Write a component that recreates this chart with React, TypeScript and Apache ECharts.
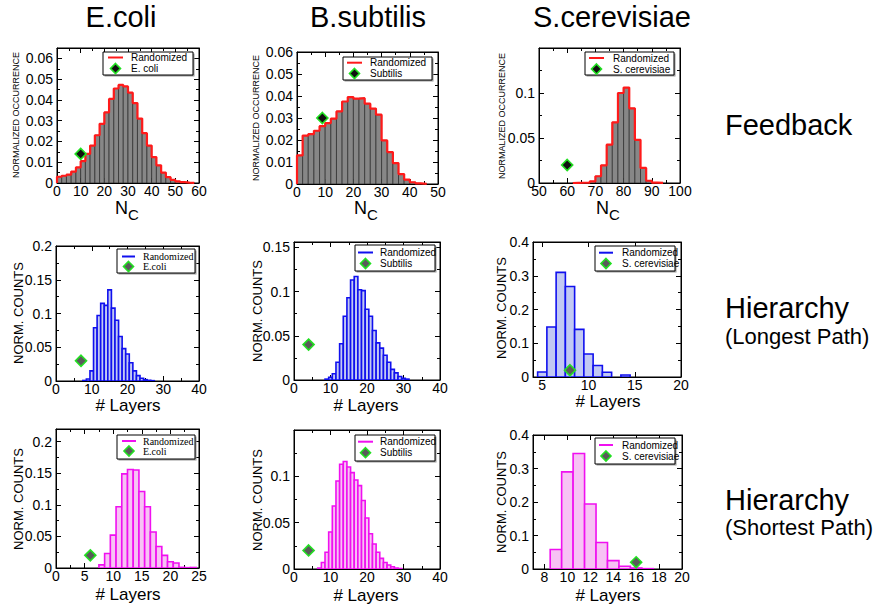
import React, { useEffect, useRef } from "react";
import * as echarts from "echarts";

// ---------------- DATA ----------------
// Row 1: Feedback (N_C), bins of width 2 (centers)
const ecoliFbCenters = [1, 3, 5, 7, 9, 11, 13, 15, 17, 19, 21, 23, 25, 27, 29, 31, 33, 35, 37, 39, 41, 43, 45, 47, 49, 51, 53, 55, 57];
const ecoliFbValues = [0.003, 0.0035, 0.004, 0.0055, 0.0075, 0.0105, 0.014, 0.018, 0.023, 0.0285, 0.034, 0.0405, 0.0455, 0.0472, 0.0465, 0.0435, 0.0385, 0.031, 0.024, 0.018, 0.0125, 0.0085, 0.005, 0.0028, 0.0015, 0.0008, 0.0004, 0.0002, 0.0001];
const ecoliFbObserved = [10, 0.014];

const subtilisFbCenters = [1, 3, 5, 7, 9, 11, 13, 15, 17, 19, 21, 23, 25, 27, 29, 31, 33, 35, 37, 39, 41, 43, 45];
const subtilisFbValues = [0.013, 0.022, 0.0227, 0.0242, 0.0263, 0.0277, 0.0297, 0.033, 0.0375, 0.0395, 0.0388, 0.039, 0.0365, 0.0343, 0.0315, 0.0198, 0.0145, 0.0095, 0.0045, 0.002, 0.0008, 0.0003, 0.0001];
const subtilisFbObserved = [9, 0.03];

const cerevisiaeFbCenters = [63, 65, 67, 69, 71, 73, 75, 77, 79, 81, 83, 85, 87, 89, 91, 93];
const cerevisiaeFbValues = [0.0002, 0.0003, 0.0005, 0.0018, 0.0075, 0.0196, 0.0426, 0.0674, 0.1, 0.106, 0.083, 0.048, 0.0167, 0.0025, 0.0005, 0.0002];
const cerevisiaeFbObserved = [60, 0.02];

// Row 2: Hierarchy (longest path), bins of width 1 (centers)
const ecoliLpCenters = [8, 9, 10, 11, 12, 13, 14, 15, 16, 17, 18, 19, 20, 21, 22, 23, 24, 25, 26, 27];
const ecoliLpValues = [0.0008, 0.003, 0.015, 0.079, 0.097, 0.115, 0.112, 0.135, 0.108, 0.09, 0.066, 0.048, 0.04, 0.027, 0.015, 0.008, 0.004, 0.002, 0.001, 0.0005];
const ecoliLpObserved = [7, 0.03];

const subtilisLpCenters = [9, 10, 11, 12, 13, 14, 15, 16, 17, 18, 19, 20, 21, 22, 23, 24, 25, 26, 27, 28, 29, 30, 31];
const subtilisLpValues = [0.001, 0.003, 0.007, 0.02, 0.041, 0.072, 0.093, 0.113, 0.117, 0.102, 0.101, 0.08, 0.072, 0.056, 0.042, 0.036, 0.028, 0.02, 0.012, 0.008, 0.004, 0.002, 0.001];
const subtilisLpObserved = [4, 0.04];

const cerevisiaeLpCenters = [5, 6, 7, 8, 9, 10, 11, 12, 14];
const cerevisiaeLpValues = [0.015, 0.148, 0.31, 0.268, 0.141, 0.068, 0.034, 0.014, 0.006];
const cerevisiaeLpObserved = [8, 0.02];

// Row 3: Hierarchy (shortest path), bins of width 1 (centers)
const ecoliSpCenters = [8, 9, 10, 11, 12, 13, 14, 15, 16, 17, 18, 19, 20, 21, 22, 23, 24];
const ecoliSpValues = [0.005, 0.023, 0.052, 0.097, 0.149, 0.156, 0.155, 0.121, 0.097, 0.057, 0.034, 0.02, 0.01, 0.008, 0.001, 0.0005, 0.0008];
const ecoliSpObserved = [6, 0.02];

const subtilisSpCenters = [7, 8, 9, 10, 11, 12, 13, 14, 15, 16, 17, 18, 19, 20, 21, 22, 23, 24, 25, 26, 27, 28, 29];
const subtilisSpValues = [0.001, 0.007, 0.018, 0.04, 0.068, 0.095, 0.113, 0.116, 0.11, 0.104, 0.096, 0.09, 0.074, 0.055, 0.038, 0.027, 0.018, 0.0115, 0.007, 0.0043, 0.0025, 0.001, 0.0005];
const subtilisSpObserved = [4, 0.02];

const cerevisiaeSpCenters = [9, 10, 11, 12, 13, 14, 15, 16, 17];
const cerevisiaeSpValues = [0.058, 0.29, 0.345, 0.194, 0.079, 0.025, 0.008, 0.003, 0.001];
const cerevisiaeSpObserved = [16, 0.02];

// Axis ranges [min, max, interval]
const ecoliFbX = [0, 60, 10];
const ecoliFbY = [0, 0.065, 0.01];
const subtilisFbX = [0, 50, 10];
const subtilisFbY = [0, 0.06, 0.01];
const cerevisiaeFbX = [50, 100, 10];
const cerevisiaeFbY = [0, 0.15, 0.05];
const ecoliLpX = [0, 40, 10];
const ecoliLpY = [0, 0.2, 0.05];
const subtilisLpX = [0, 40, 10];
const subtilisLpY = [0, 0.156, 0.05];
const cerevisiaeLpX = [4, 20];
const cerevisiaeLpXTicks = [5, 10, 15, 20];
const cerevisiaeLpY = [0, 0.4, 0.1];
const ecoliSpX = [0, 25, 5];
const ecoliSpY = [0, 0.22, 0.05];
const subtilisSpX = [0, 40, 10];
const subtilisSpY = [0, 0.15, 0.05];
const cerevisiaeSpX = [7, 20];
const cerevisiaeSpXTicks = [8, 10, 12, 14, 16, 18, 20];
const cerevisiaeSpY = [0, 0.4, 0.1];

const organisms = ["E.coli", "B.subtilis", "S.cerevisiae"];
const legendNames = ["E. coli", "Subtilis", "S. cerevisiae", "E.coli", "Subtilis", "S. cerevisiae", "E.coli", "Subtilis", "S. cerevisiae"];
const randomizedLabel = "Randomized";
const rowTitles = ["Feedback", "Hierarchy", "Hierarchy"];
const rowSubtitles = ["", "(Longest Path)", "(Shortest Path)"];
const yTitles = ["NORMALIZED OCCURRENCE", "NORM. COUNTS", "NORM. COUNTS"];
const xTitleRows = ["N", "# Layers", "# Layers"];

// ---------------- STYLE / LAYOUT ----------------
const FONT = "'Liberation Sans', Arial, Helvetica, sans-serif";
const SERIF = "'Liberation Serif', 'Times New Roman', serif";

type Panel = {
  centers: number[];
  values: number[];
  width: number;
  obs: number[];
  x: number[];
  y: number[];
  xTicks?: number[];
  hideYMax: boolean;
};

const panels: Panel[] = [
  { centers: ecoliFbCenters, values: ecoliFbValues, width: 2, obs: ecoliFbObserved, x: ecoliFbX, y: ecoliFbY, hideYMax: true },
  { centers: subtilisFbCenters, values: subtilisFbValues, width: 2, obs: subtilisFbObserved, x: subtilisFbX, y: subtilisFbY, hideYMax: false },
  { centers: cerevisiaeFbCenters, values: cerevisiaeFbValues, width: 2, obs: cerevisiaeFbObserved, x: cerevisiaeFbX, y: cerevisiaeFbY, hideYMax: true },
  { centers: ecoliLpCenters, values: ecoliLpValues, width: 1, obs: ecoliLpObserved, x: ecoliLpX, y: ecoliLpY, hideYMax: false },
  { centers: subtilisLpCenters, values: subtilisLpValues, width: 1, obs: subtilisLpObserved, x: subtilisLpX, y: subtilisLpY, hideYMax: true },
  { centers: cerevisiaeLpCenters, values: cerevisiaeLpValues, width: 1, obs: cerevisiaeLpObserved, x: cerevisiaeLpX, y: cerevisiaeLpY, xTicks: cerevisiaeLpXTicks, hideYMax: false },
  { centers: ecoliSpCenters, values: ecoliSpValues, width: 1, obs: ecoliSpObserved, x: ecoliSpX, y: ecoliSpY, hideYMax: true },
  { centers: subtilisSpCenters, values: subtilisSpValues, width: 1, obs: subtilisSpObserved, x: subtilisSpX, y: subtilisSpY, hideYMax: true },
  { centers: cerevisiaeSpCenters, values: cerevisiaeSpValues, width: 1, obs: cerevisiaeSpObserved, x: cerevisiaeSpX, y: cerevisiaeSpY, xTicks: cerevisiaeSpXTicks, hideYMax: false },
];

// grid boxes [left, top, width, height]
const gridBoxes = [
  [57, 48, 142, 135], [297, 52, 141, 132], [539, 48, 141, 135],
  [56, 246, 143, 135], [294, 242, 146, 138], [533, 242, 148, 135],
  [56, 429, 143, 139], [294, 430, 146, 139], [533, 435, 149, 134],
];

const rowStyles = [
  { fill: "#878787", stroke: "#2a2a2a", barLW: 0.7, outline: "#ff1a1a", diamond: "#111111" },
  { fill: "#c2c9f3", stroke: "#1010ee", barLW: 1.6, outline: "#1010ee", diamond: "#5a5a5a" },
  { fill: "#f7c2f4", stroke: "#f010f0", barLW: 1.6, outline: "#f010f0", diamond: "#5a5a5a" },
];

const legendBoxes = [
  { x: 103, y: 52, w: 90, h: 23, l1: 57.5, l2: 68.5, sx: 108, ex: 123, tx: 131, serif: false },
  { x: 343, y: 57, w: 89, h: 23, l1: 62.7, l2: 73.5, sx: 347, ex: 362, tx: 370, serif: false },
  { x: 585, y: 52, w: 89, h: 23, l1: 58, l2: 69, sx: 589, ex: 604, tx: 613, serif: false },
  { x: 117, y: 249, w: 78, h: 24, l1: 256.5, l2: 266.5, sx: 122, ex: 135, tx: 143, serif: true },
  { x: 355, y: 245, w: 80, h: 26, l1: 252.5, l2: 263.5, sx: 358, ex: 373, tx: 380, serif: false },
  { x: 595, y: 246, w: 80, h: 25, l1: 252.7, l2: 263.5, sx: 599, ex: 613, tx: 622, serif: false },
  { x: 117, y: 435, w: 78, h: 24, l1: 441, l2: 451, sx: 122, ex: 136, tx: 143, serif: true },
  { x: 355, y: 435, w: 80, h: 26, l1: 441.7, l2: 452.7, sx: 358, ex: 373, tx: 380, serif: false },
  { x: 595, y: 438, w: 80, h: 26, l1: 445, l2: 456, sx: 599, ex: 613, tx: 622, serif: false },
];

const titleCenters = [121, 368, 612];
const yTitlePos = [
  [16, 115], [256, 118], [502, 116],
  [18, 313], [257, 311], [501, 308],
  [18, 499], [257, 500], [501, 502],
];
const xTitlePos = [
  [128, 208], [367, 208], [609, 208],
  [128, 405], [366, 405], [608, 401],
  [128, 594], [366, 595], [608, 595],
];

function buildOption() {
  const grid: any[] = [];
  const xAxis: any[] = [];
  const yAxis: any[] = [];
  const series: any[] = [];
  const graphic: any[] = [];

  const tickStyle = { color: "#000", width: 1 };

  panels.forEach((p, i) => {
    const row = Math.floor(i / 3);
    const rs = rowStyles[row];
    const [gl, gt, gw, gh] = gridBoxes[i];
    grid.push({ left: gl, top: gt, width: gw, height: gh, show: true, borderColor: "#000", borderWidth: 1, backgroundColor: "#fff" });

    const baseX: any = {
      gridIndex: i,
      type: "value",
      min: p.x[0],
      max: p.x[1],
      splitLine: { show: false },
      minorSplitLine: { show: false },
      axisLine: { show: true, onZero: false, lineStyle: { color: "#000", width: 1 } },
    };
    if (p.xTicks) {
      baseX.interval = 1;
      baseX.axisTick = { show: true, inside: true, length: 5, lineStyle: tickStyle, customValues: p.xTicks };
      baseX.minorTick = { show: false };
    } else {
      baseX.interval = p.x[2];
      baseX.axisTick = { show: true, inside: true, length: 5, lineStyle: tickStyle };
      baseX.minorTick = { show: true, splitNumber: 2, length: 3, lineStyle: tickStyle };
    }
    xAxis.push({
      ...baseX,
      position: "bottom",
      axisLabel: {
        show: true, fontSize: 14, fontFamily: FONT, color: "#000", margin: 1,
        ...(p.xTicks ? { customValues: p.xTicks } : {}),
      },
    });
    xAxis.push({ ...baseX, position: "top", axisLabel: { show: false } });

    const baseY: any = {
      gridIndex: i,
      type: "value",
      min: p.y[0],
      max: p.y[1],
      interval: p.y[2],
      splitLine: { show: false },
      minorSplitLine: { show: false },
      axisLine: { show: true, onZero: false, lineStyle: { color: "#000", width: 1 } },
      axisTick: { show: true, inside: true, length: 5, lineStyle: tickStyle },
      minorTick: { show: true, splitNumber: 2, length: 3, lineStyle: tickStyle },
    };
    yAxis.push({
      ...baseY,
      position: "left",
      axisLabel: { show: true, fontSize: 14, fontFamily: FONT, color: "#000", margin: 4, showMaxLabel: !p.hideYMax, showMinLabel: true },
    });
    yAxis.push({ ...baseY, position: "right", axisLabel: { show: false } });

    const w = p.width;
    const barData = p.centers.map((c, k) => [c - w / 2, c + w / 2, p.values[k]]);
    series.push({
      type: "custom",
      xAxisIndex: 2 * i,
      yAxisIndex: 2 * i,
      data: barData,
      encode: { x: [0, 1], y: 2 },
      clip: true,
      z: 2,
      renderItem: (params: any, api: any) => {
        const x0 = api.value(0);
        const x1 = api.value(1);
        const h = api.value(2);
        const a = api.coord([x0, h]);
        const b = api.coord([x1, 0]);
        return {
          type: "rect",
          shape: { x: a[0], y: a[1], width: b[0] - a[0], height: b[1] - a[1] },
          style: { fill: rs.fill, stroke: rs.stroke, lineWidth: rs.barLW },
        };
      },
    });

    if (row === 0) {
      const pts: number[][] = [[p.centers[0] - w / 2, 0]];
      p.centers.forEach((c, k) => {
        pts.push([c - w / 2, p.values[k]]);
        pts.push([c + w / 2, p.values[k]]);
      });
      pts.push([p.centers[p.centers.length - 1] + w / 2, 0]);
      series.push({
        type: "line",
        xAxisIndex: 2 * i,
        yAxisIndex: 2 * i,
        data: pts,
        symbol: "none",
        lineStyle: { color: rs.outline, width: 2.2 },
        clip: true,
        z: 3,
      });
    }

    series.push({
      type: "scatter",
      xAxisIndex: 2 * i,
      yAxisIndex: 2 * i,
      data: [p.obs],
      symbol: "diamond",
      symbolSize: 11,
      itemStyle: { color: rs.diamond, borderColor: "#22e022", borderWidth: 1.6, opacity: 1 },
      z: 5,
    });

    // legend
    const lb = legendBoxes[i];
    const lf = lb.serif ? SERIF : FONT;
    graphic.push({ type: "rect", z: 100, shape: { x: lb.x + 1.5, y: lb.y + 1.5, width: lb.w, height: lb.h }, style: { fill: "#999" } });
    graphic.push({ type: "rect", z: 101, shape: { x: lb.x, y: lb.y, width: lb.w, height: lb.h }, style: { fill: "#fff", stroke: "#000", lineWidth: 1 } });
    graphic.push({ type: "line", z: 102, shape: { x1: lb.sx, y1: lb.l1, x2: lb.ex, y2: lb.l1 }, style: { stroke: rs.outline, lineWidth: 2 } });
    const cx = (lb.sx + lb.ex) / 2;
    const d = 5;
    graphic.push({
      type: "polygon", z: 102,
      shape: { points: [[cx, lb.l2 - d], [cx + d, lb.l2], [cx, lb.l2 + d], [cx - d, lb.l2]] },
      style: { fill: rs.diamond, stroke: "#22e022", lineWidth: 1.6 },
    });
    graphic.push({ type: "text", z: 102, x: lb.tx, y: lb.l1, style: { text: randomizedLabel, fontSize: 10, fontFamily: lf, fill: "#000", align: "left", verticalAlign: "middle" } });
    graphic.push({ type: "text", z: 102, x: lb.tx, y: lb.l2, style: { text: legendNames[i], fontSize: 10, fontFamily: lf, fill: "#000", align: "left", verticalAlign: "middle" } });

    // y title
    const [yx, yy] = yTitlePos[i];
    graphic.push({
      type: "text", z: 100, x: yx, y: yy, rotation: Math.PI / 2,
      style: { text: yTitles[row], fontSize: row === 0 ? 9 : 13, fontFamily: FONT, fill: "#000", align: "center", verticalAlign: "middle" },
    });

    // x title
    const [xx, xy] = xTitlePos[i];
    if (row === 0) {
      graphic.push({ type: "text", z: 100, x: xx, y: xy, style: { text: xTitleRows[0], fontSize: 18, fontFamily: FONT, fill: "#000", align: "right", verticalAlign: "middle" } });
      graphic.push({ type: "text", z: 100, x: xx, y: xy + 6, style: { text: "C", fontSize: 15, fontFamily: FONT, fill: "#000", align: "left", verticalAlign: "middle" } });
    } else {
      graphic.push({ type: "text", z: 100, x: xx, y: xy, style: { text: xTitleRows[row], fontSize: 17, fontFamily: FONT, fill: "#000", align: "center", verticalAlign: "middle" } });
    }
  });

  organisms.forEach((o, c) => {
    graphic.push({ type: "text", z: 100, x: titleCenters[c], y: 17, style: { text: o, fontSize: 29, fontFamily: FONT, fill: "#000", align: "center", verticalAlign: "middle" } });
  });

  const rowTitleY = [125, 308, 500];
  const rowSubY = [0, 336, 527];
  rowTitles.forEach((t, r) => {
    graphic.push({ type: "text", z: 100, x: 725, y: rowTitleY[r], style: { text: t, fontSize: 29, fontFamily: FONT, fill: "#000", align: "left", verticalAlign: "middle" } });
    if (rowSubtitles[r]) {
      graphic.push({ type: "text", z: 100, x: 725, y: rowSubY[r], style: { text: rowSubtitles[r], fontSize: 22, fontFamily: FONT, fill: "#000", align: "left", verticalAlign: "middle" } });
    }
  });

  return {
    animation: false,
    backgroundColor: "#ffffff",
    grid,
    xAxis,
    yAxis,
    series,
    graphic,
  };
}

export default function App() {
  const ref = useRef<HTMLDivElement>(null);
  useEffect(() => {
    if (!ref.current) return;
    const chart = echarts.init(ref.current, null, { renderer: "svg" });
    chart.setOption(buildOption() as any);
    return () => chart.dispose();
  }, []);
  return (
    <div
      ref={ref}
      style={{ position: "absolute", left: 0, top: 0, width: 879, height: 605, background: "#fff" }}
    />
  );
}
